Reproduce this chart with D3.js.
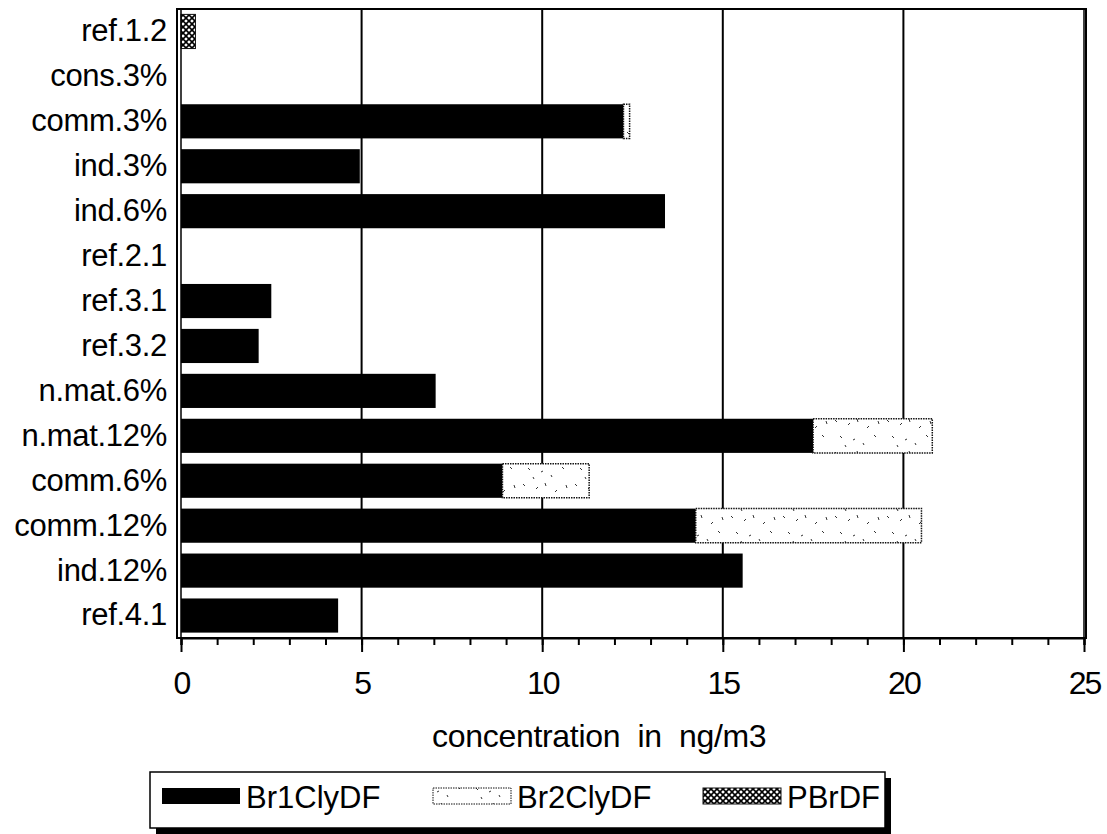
<!DOCTYPE html>
<html>
<head>
<meta charset="utf-8">
<script src="https://cdn.jsdelivr.net/npm/d3@7"></script>
<style>
  body { margin: 0; background: #fff; }
  svg { display: block; font-family: "Liberation Sans", Arial, sans-serif; }
</style>
</head>
<body>
<div id="container"></div>
<script>
/* DATA */
const categories = ["ref.1.2","cons.3%","comm.3%","ind.3%","ind.6%","ref.2.1","ref.3.1","ref.3.2","n.mat.6%","n.mat.12%","comm.6%","comm.12%","ind.12%","ref.4.1"];
const br1ClyDF = [0, 0, 12.25, 4.95, 13.4, 0, 2.5, 2.15, 7.05, 17.5, 8.9, 14.25, 15.55, 4.35];
const br2ClyDF = [0, 0, 0.17, 0, 0, 0, 0, 0, 0, 3.3, 2.4, 6.25, 0, 0];
const pBrDF    = [0.4, 0, 0, 0, 0, 0, 0, 0, 0, 0, 0, 0, 0, 0];
const seriesNames = ["Br1ClyDF", "Br2ClyDF", "PBrDF"];
const xTicks = [0, 5, 10, 15, 20, 25];
const xLabel = "concentration  in  ng/m3";

/* CONSTANTS */
const width = 1107, height = 834;
const margin = {top: 9, left: 181, right: 23, bottom: 196};

const rows = categories.map((c, i) => ({cat: c, Br1ClyDF: br1ClyDF[i], Br2ClyDF: br2ClyDF[i], PBrDF: pBrDF[i]}));
const stacked = d3.stack().keys(seriesNames)(rows);

const svg = d3.select("#container").append("svg")
  .attr("width", width).attr("height", height);

/* PATTERNS */
const defs = svg.append("defs");
const dotPat = defs.append("pattern").attr("id", "pat-br2")
  .attr("patternUnits", "userSpaceOnUse").attr("width", 52).attr("height", 32);
dotPat.append("rect").attr("width", 52).attr("height", 32).attr("fill", "#fff");
// sparse specks like the scanned stipple
[[3,4,5,6],[16,9,18,7],[25,3,26,6],[35,12,37,10],[46,5,47,8],[8,20,10,22],[21,24,23,23],[31,27,32,29],[42,19,44,21],[13,29,14,31]]
  .forEach(s => dotPat.append("line")
    .attr("x1", s[0]).attr("y1", s[1]).attr("x2", s[2]).attr("y2", s[3])
    .attr("stroke", "#333").attr("stroke-width", 1));

const hatchPat = defs.append("pattern").attr("id", "pat-pbr")
  .attr("patternUnits", "userSpaceOnUse").attr("width", 6).attr("height", 6);
hatchPat.append("rect").attr("width", 6).attr("height", 6).attr("fill", "#fff");
hatchPat.append("path").attr("d", "M0,0L6,6M6,0L0,6").attr("stroke", "#000").attr("stroke-width", 1.6);

const fills = {"Br1ClyDF": "#000", "Br2ClyDF": "url(#pat-br2)", "PBrDF": "url(#pat-pbr)"};

/* SCALES */
const xScale = d3.scaleLinear().domain([0, 25]).range([margin.left, width - margin.right]);
const yScale = d3.scaleBand().domain(categories)
  .range([margin.top, height - margin.bottom]).paddingInner(0.24).paddingOuter(0.12);
const plotBottom = height - margin.bottom;

/* GRID */
svg.append("g").selectAll("line")
  .data(xTicks.filter(t => t > 0 && t < 25))
  .join("line")
  .attr("x1", d => xScale(d)).attr("x2", d => xScale(d))
  .attr("y1", margin.top).attr("y2", plotBottom)
  .attr("stroke", "#000").attr("stroke-width", 2);

/* BARS */
svg.append("g").selectAll("g")
  .data(stacked)
  .join("g")
  .attr("fill", d => fills[d.key])
  .each(function(s) {
    d3.select(this).selectAll("rect")
      .data(s.filter(d => d[1] - d[0] > 0))
      .join("rect")
      .attr("x", d => xScale(d[0]))
      .attr("width", d => xScale(d[1]) - xScale(d[0]))
      .attr("y", d => yScale(d.data.cat))
      .attr("height", yScale.bandwidth())
      .attr("stroke", s.key === "Br1ClyDF" ? "none" : "#111")
      .attr("stroke-width", s.key === "Br2ClyDF" ? 1.5 : 1)
      .attr("stroke-dasharray", s.key === "Br2ClyDF" ? "1.5,1" : null);
  });

/* FRAME */
svg.append("rect")
  .attr("x", margin.left - 4).attr("y", margin.top)
  .attr("width", width - margin.right - margin.left + 6)
  .attr("height", plotBottom - margin.top)
  .attr("fill", "none").attr("stroke", "#000").attr("stroke-width", 2);
svg.append("line")
  .attr("x1", margin.left).attr("x2", margin.left)
  .attr("y1", margin.top).attr("y2", plotBottom)
  .attr("stroke", "#000").attr("stroke-width", 1.5);
svg.append("line")
  .attr("x1", xScale(25)).attr("x2", xScale(25))
  .attr("y1", margin.top).attr("y2", plotBottom)
  .attr("stroke", "#000").attr("stroke-width", 1.5);

/* AXES */
const xMinor = d3.axisBottom(xScale).tickValues(d3.range(0, 26)).tickSize(7).tickFormat("");
svg.append("g").attr("transform", `translate(0,${plotBottom})`).call(xMinor)
  .call(g => g.select(".domain").attr("stroke-width", 2))
  .call(g => g.selectAll(".tick line").attr("stroke-width", 2));

const xAxis = d3.axisBottom(xScale).tickValues(xTicks).tickSize(14).tickPadding(19);
svg.append("g").attr("transform", `translate(0,${plotBottom})`).call(xAxis)
  .call(g => g.select(".domain").remove())
  .call(g => g.selectAll(".tick line").attr("stroke-width", 2))
  .call(g => g.selectAll(".tick text")
    .attr("font-size", 32).attr("fill", "#000")
    .attr("font-family", "'Liberation Sans', Arial, sans-serif")
    .attr("letter-spacing", -2));

const yAxis = d3.axisLeft(yScale).tickSize(0).tickPadding(14);
svg.append("g").attr("transform", `translate(${margin.left},0)`).call(yAxis)
  .call(g => g.select(".domain").remove())
  .call(g => g.selectAll(".tick text")
    .attr("font-size", 31).attr("fill", "#000")
    .attr("font-family", "'Liberation Sans', Arial, sans-serif")
    .attr("letter-spacing", -0.3));

svg.append("text")
  .attr("x", 432).attr("y", 747)
  .attr("font-size", 32)
  .attr("letter-spacing", -0.3)
  .style("white-space", "pre")
  .text(xLabel);

/* LEGEND */
const lg = svg.append("g");
lg.append("rect").attr("x", 156).attr("y", 778).attr("width", 735).attr("height", 60).attr("fill", "#000");
lg.append("rect").attr("x", 150).attr("y", 772).attr("width", 735).attr("height", 56)
  .attr("fill", "#fff").attr("stroke", "#000").attr("stroke-width", 1.5);
const legendX = [162, 433, 703];
seriesNames.forEach((name, i) => {
  lg.append("rect")
    .attr("x", legendX[i]).attr("y", 788).attr("width", 78).attr("height", 16)
    .attr("fill", fills[name])
    .attr("stroke", name === "Br1ClyDF" ? "none" : "#111")
    .attr("stroke-dasharray", name === "Br2ClyDF" ? "1.5,1" : null);
  lg.append("text")
    .attr("x", legendX[i] + 84).attr("y", 808)
    .attr("font-size", 31)
    .text(name);
});
</script>
</body>
</html>
